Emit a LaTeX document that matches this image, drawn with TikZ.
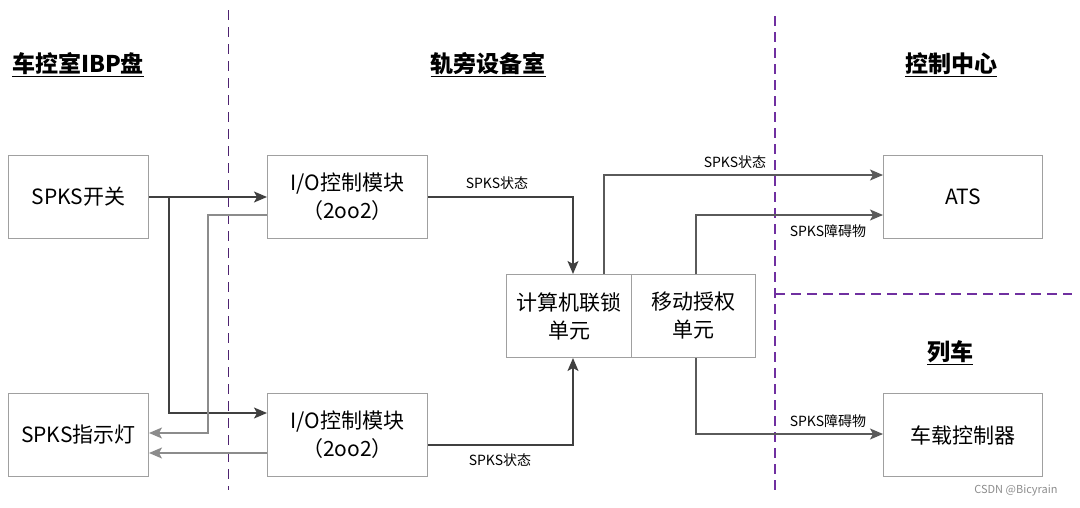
\documentclass[tikz,border=0pt]{standalone}
\usepackage{fontspec}
\setmainfont{Noto Sans CJK SC}
\usetikzlibrary{arrows.meta,calc}
\definecolor{boxc}{HTML}{A0A0A0}
\definecolor{dk}{HTML}{404040}
\definecolor{md}{HTML}{5A5A5A}
\definecolor{lt}{HTML}{8C8C8C}
\definecolor{purp}{HTML}{7030A0}
\begin{document}
\begin{tikzpicture}[x=1pt,y=-1pt,
  box/.style={draw=boxc,line width=1pt,anchor=north west,inner sep=0pt,align=center,font=\fontsize{21}{28}\selectfont},
  tip/.style={-{Stealth[length=13pt,width=11pt,inset=3pt]}},
  dkline/.style={tip,draw=dk,line width=1.4pt},
  mdline/.style={tip,draw=md,line width=1.2pt},
  ltline/.style={tip,draw=lt,line width=1.2pt},
  lbl/.style={font=\fontsize{14}{16}\selectfont,inner sep=0pt},
  ttl/.style={font=\fontsize{23}{26}\selectfont\bfseries,inner sep=0pt},
  region/.style={draw=purp,dash pattern=on 10pt off 6pt}
]
\useasboundingbox (0,0) rectangle (1080,507);
% dashed separators
\coordinate (d1a) at (228,10); \coordinate (d1b) at (228,490);
\draw[region,line width=0.8pt,draw=purp!70!black,dash pattern=on 10pt off 7pt] (d1a) -- (d1b);
\coordinate (d2a) at (775,16); \coordinate (d2b) at (775,492);
\draw[region,line width=1.5pt] (d2a) -- (d2b);
\coordinate (d3a) at (775,294); \coordinate (d3b) at (1072,294);
\draw[region,line width=1.5pt] (d3a) -- (d3b);
% titles
\node[ttl] (t1) at (78,65) {\underline{车控室IBP盘}};
\node[ttl] (t2) at (488,65) {\underline{轨旁设备室}};
\node[ttl] (t3) at (951,65) {\underline{控制中心}};
\node[ttl] (t4) at (950,353) {\underline{列车}};
% boxes
\node[box,minimum width=140pt,minimum height=83pt] (k) at (8,155) {SPKS开关};
\node[box,minimum width=140pt,minimum height=83pt] (l) at (8,393) {SPKS指示灯};
\node[box,minimum width=160pt,minimum height=83pt] (io1) at (267,155) {I/O控制模块\\（2oo2）};
\node[box,minimum width=160pt,minimum height=83pt] (io2) at (267,393) {I/O控制模块\\（2oo2）};
\node[box,minimum width=125pt,minimum height=83pt] (ci) at (506,274) {计算机联锁\\单元};
\node[box,minimum width=124pt,minimum height=83pt] (ma) at (631,274) {移动授权\\单元};
\node[box,minimum width=159pt,minimum height=83pt] (ats) at (883,155) {ATS};
\node[box,minimum width=159pt,minimum height=83pt] (vobc) at (883,393) {车载控制器};
% connectors
\draw[dkline] (k.east) -- (io1.west);
\draw[dkline] (k.east) -- ++(20,0) |- ($(io2.north west)+(0,20)$);
\draw[ltline] ($(io1.north west)+(0,60)$) -- ++(-59,0) |- ($(l.north east)+(0,40)$);
\draw[ltline] ($(io2.north west)+(0,60)$) -- ($(l.north east)+(0,60)$);
\draw[dkline] (io1.east) -| ($(ci.north west)+(67,0)$);
\draw[dkline] ($(io2.north east)+(0,52)$) -| ($(ci.south west)+(67,0)$);
\draw[mdline] ($(ci.north west)+(98,0)$) |- ($(ats.north west)+(0,20)$);
\draw[mdline] ($(ma.north west)+(65,0)$) |- ($(ats.north west)+(0,60)$);
\draw[mdline] ($(ma.south west)+(65,0)$) |- ($(vobc.north west)+(0,41)$);
% labels
\node[lbl] (s1) at (497,183) {SPKS状态};
\node[lbl] (s2) at (500,460) {SPKS状态};
\node[lbl] (s3) at (735,162) {SPKS状态};
\node[lbl] (s4) at (828,231) {SPKS障碍物};
\node[lbl] (s5) at (828,421) {SPKS障碍物};
\node[font=\fontsize{11}{12}\selectfont,text=lt,inner sep=0pt] (wm) at (1016,491) {CSDN @Bicyrain};
\end{tikzpicture}
\end{document}
